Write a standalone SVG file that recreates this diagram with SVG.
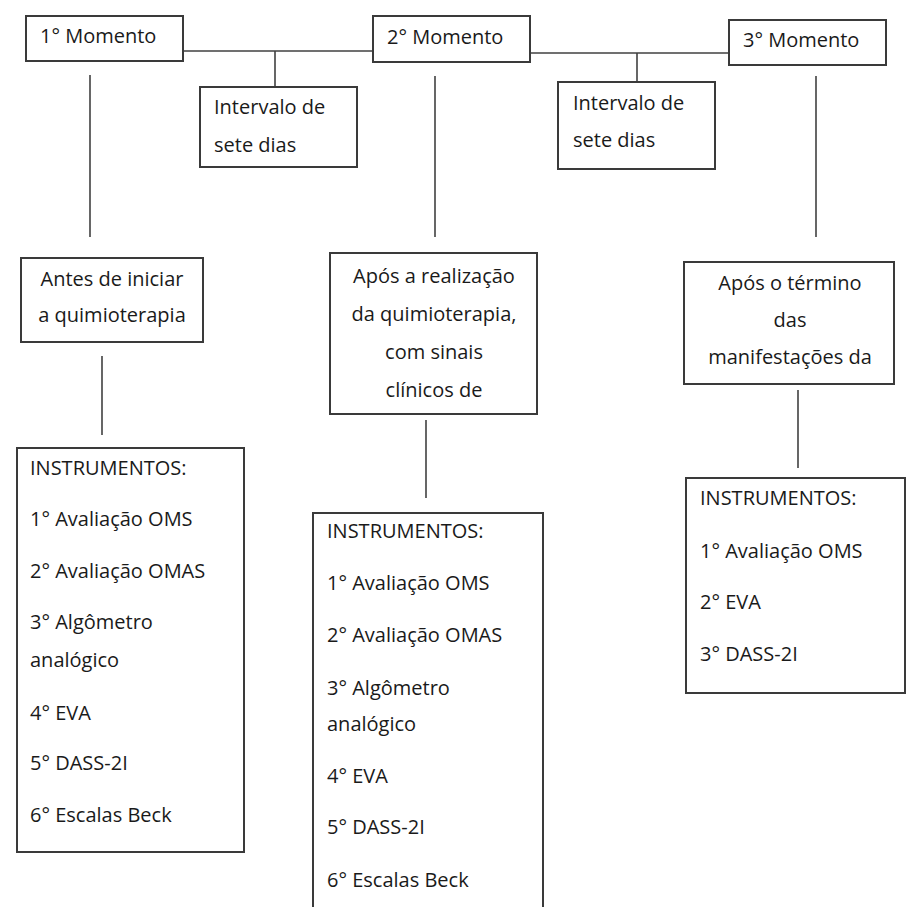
<svg xmlns="http://www.w3.org/2000/svg" width="907" height="907" viewBox="0 0 907 907">
<style>
.box{fill:#fff;stroke:#3a3a3a;stroke-width:2}
.ln{stroke:#404040;stroke-width:1.6;fill:none}
text{font-family:"Open Sans","Liberation Sans",sans-serif;font-size:20px;fill:#1a1a1a}
.c{text-anchor:middle}
</style>
<rect width="907" height="907" fill="#fff"/>
<g id="connectors">
<line class="ln" x1="183" y1="51" x2="373" y2="51"/>
<line class="ln" x1="275" y1="51" x2="275" y2="87"/>
<line class="ln" x1="527" y1="53" x2="729" y2="53"/>
<line class="ln" x1="637" y1="53" x2="637" y2="82"/>
<line class="ln" x1="90" y1="75" x2="90" y2="237"/>
<line class="ln" x1="435" y1="76" x2="435" y2="237"/>
<line class="ln" x1="816" y1="76" x2="816" y2="237"/>
<line class="ln" x1="102" y1="356" x2="102" y2="435"/>
<line class="ln" x1="426" y1="420" x2="426" y2="498"/>
<line class="ln" x1="798" y1="390" x2="798" y2="468"/>
</g>
<g id="m1"><rect class="box" x="26" y="16" width="157" height="45"/><text x="40" y="43">1° Momento</text></g>
<g id="m2"><rect class="box" x="373" y="16" width="157" height="46"/><text x="387" y="44">2° Momento</text></g>
<g id="m3"><rect class="box" x="729" y="20" width="157" height="45"/><text x="743" y="47">3° Momento</text></g>
<g id="int1"><rect class="box" x="200" y="87" width="157" height="80"/><text x="214" y="114">Intervalo de</text><text x="214" y="152">sete dias</text></g>
<g id="int2"><rect class="box" x="558" y="82" width="157" height="87"/><text x="573" y="110">Intervalo de</text><text x="573" y="147">sete dias</text></g>
<g id="antes"><rect class="box" x="21" y="258" width="182" height="84"/><text class="c" x="112" y="286">Antes de iniciar</text><text class="c" x="112" y="322">a quimioterapia</text></g>
<g id="apos"><rect class="box" x="330" y="253" width="207" height="161"/><text class="c" x="434" y="283">Após a realização</text><text class="c" x="434" y="321">da quimioterapia,</text><text class="c" x="434" y="359">com sinais</text><text class="c" x="434" y="397">clínicos de</text></g>
<g id="termino"><rect class="box" x="684" y="262" width="210" height="122"/><text class="c" x="790" y="290">Após o término</text><text class="c" x="790" y="327">das</text><text class="c" x="790" y="364">manifestações da</text></g>
<g id="inst1"><rect class="box" x="17" y="448" width="227" height="404"/>
<text x="30" y="475">INSTRUMENTOS:</text>
<text x="30" y="526">1° Avaliação OMS</text>
<text x="30" y="578">2° Avaliação OMAS</text>
<text x="30" y="629">3° Algômetro</text>
<text x="30" y="667">analógico</text>
<text x="30" y="720">4° EVA</text>
<text x="30" y="770">5° DASS-2I</text>
<text x="30" y="822">6° Escalas Beck</text>
</g>
<g id="inst2"><rect class="box" x="313" y="513" width="230" height="410"/>
<text x="327" y="538">INSTRUMENTOS:</text>
<text x="327" y="590">1° Avaliação OMS</text>
<text x="327" y="642">2° Avaliação OMAS</text>
<text x="327" y="695">3° Algômetro</text>
<text x="327" y="731">analógico</text>
<text x="327" y="783">4° EVA</text>
<text x="327" y="834">5° DASS-2I</text>
<text x="327" y="887">6° Escalas Beck</text>
</g>
<g id="inst3"><rect class="box" x="686" y="478" width="219" height="215"/>
<text x="700" y="505">INSTRUMENTOS:</text>
<text x="700" y="558">1° Avaliação OMS</text>
<text x="700" y="609">2° EVA</text>
<text x="700" y="661">3° DASS-2I</text>
</g>
</svg>
